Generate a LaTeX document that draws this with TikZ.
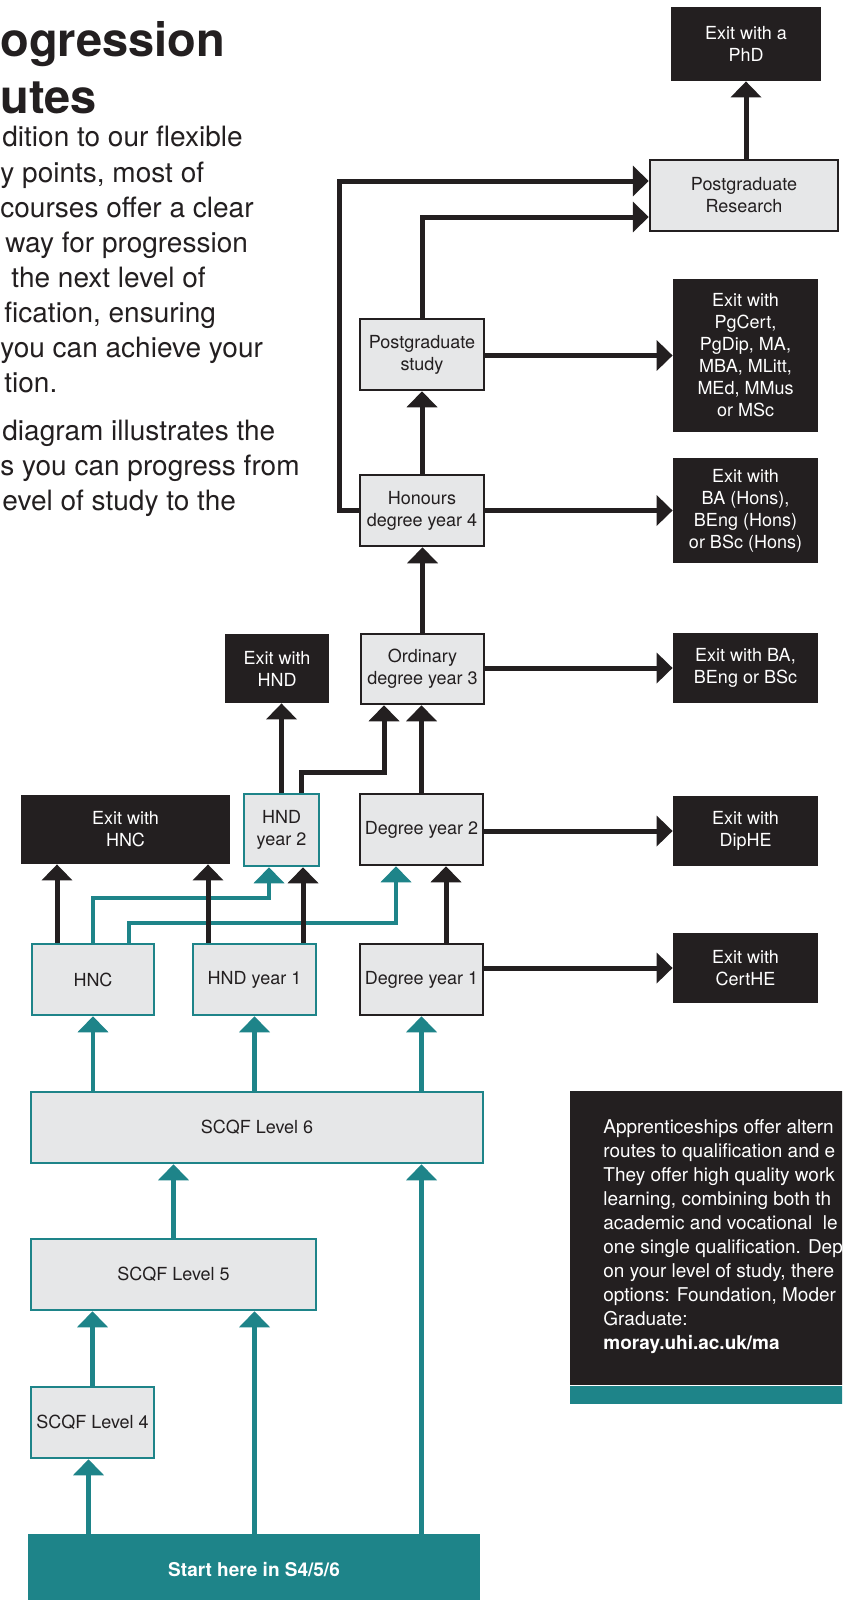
\documentclass[tikz,border=0pt]{standalone}
\usepackage{fontspec}
\setmainfont{TeX Gyre Heros}
\usetikzlibrary{arrows.meta}
\definecolor{ink}{HTML}{231F20}
\definecolor{tealc}{HTML}{1E8489}
\definecolor{boxgray}{HTML}{E6E7E8}
\begin{document}
\begin{tikzpicture}[x=0.5pt,y=-0.5pt,
  boxfont/.style={font=\fontsize{9}{11}\selectfont},
  exitbox/.style={fill=ink, text=white, inner sep=0pt, align=center, boxfont},
  graybox/.style={fill=boxgray, draw=ink, line width=1.25pt, text=ink, inner sep=0pt, align=center, boxfont},
  tealbox/.style={graybox, draw=tealc},
  blk/.style={draw=ink, line width=2.5pt, -{Triangle[length=8pt,width=15pt]}},
  tl/.style={draw=tealc, line width=2.25pt, -{Triangle[length=8pt,width=15pt]}},
  body/.style={anchor=base west, inner sep=0pt, text=ink, font=\fontsize{14}{17.5}\selectfont},
  ttl/.style={anchor=base west, inner sep=0pt, text=ink, font=\fontsize{23.5}{28}\selectfont\bfseries},
  app/.style={anchor=base west, inner sep=0pt, text=white, font=\fontsize{9.5}{12}\selectfont}
]
\useasboundingbox (0,0) rectangle (842,1600);
\clip (0,0) rectangle (842,1600);
\fill[white] (0,0) rectangle (842,1600);

% title and intro text
\node[ttl] (t1) at (0,57) {ogression};
\node[ttl] (t2) at (0,113) {utes};
\node[body] (b1) at (2,147) {dition to our flexible};
\node[body] (b2) at (0,182) {y points, most of};
\node[body] (b3) at (0,217) {courses offer a clear};
\node[body] (b4) at (5,252) {way for progression};
\node[body] (b5) at (11,287) {the next level of};
\node[body] (b6) at (4,322) {fication, ensuring};
\node[body] (b7) at (0,357) {you can achieve your};
\node[body] (b8) at (4,392) {tion.};
\node[body] (b9) at (2,440) {diagram illustrates the};
\node[body] (b10) at (0,475) {s you can progress from};
\node[body] (b11) at (2,510) {evel of study to the};

% exit boxes
\node[exitbox, minimum width=75pt, minimum height=37pt] (phd) at (746,44) {Exit with a\\PhD};
\node[exitbox, minimum width=72.5pt, minimum height=76.5pt] (pgexit) at (745.5,355.5) {Exit with\\PgCert,\\PgDip, MA,\\MBA, MLitt,\\MEd, MMus\\or MSc};
\node[exitbox, minimum width=72.5pt, minimum height=52.5pt] (honsexit) at (745.5,510.5) {Exit with\\BA (Hons),\\BEng (Hons)\\or BSc (Hons)};
\node[exitbox, minimum width=72.5pt, minimum height=35pt] (ordexit) at (745.5,668) {Exit with BA,\\BEng or BSc};
\node[exitbox, minimum width=72.5pt, minimum height=35pt] (dipexit) at (745.5,831) {Exit with\\DipHE};
\node[exitbox, minimum width=72.5pt, minimum height=35pt] (certexit) at (745.5,968) {Exit with\\CertHE};
\node[exitbox, minimum width=52pt, minimum height=34.5pt] (hndexit) at (277,668.5) {Exit with\\HND};
\node[exitbox, minimum width=104.5pt, minimum height=34.5pt] (hncexit) at (125.5,829.5) {Exit with\\HNC};

% study boxes
\node[graybox, minimum width=94pt, minimum height=35.5pt] (pr) at (744,195.5) {Postgraduate\\Research};
\node[graybox, minimum width=62pt, minimum height=35.5pt] (pgs) at (422,354.5) {Postgraduate\\study};
\node[graybox, minimum width=62pt, minimum height=35.5pt] (hon) at (422,510.5) {Honours\\degree year 4};
\node[graybox, minimum width=61.5pt, minimum height=35pt] (ord) at (422.5,669) {Ordinary\\degree year 3};
\node[graybox, minimum width=61.5pt, minimum height=35.5pt] (deg2) at (421.5,829.5) {Degree year 2};
\node[graybox, minimum width=61.5pt, minimum height=35.5pt] (deg1) at (421.5,979.5) {Degree year 1};
\node[tealbox, minimum width=37.5pt, minimum height=36pt] (hnd2) at (281.5,830) {HND\\year 2};
\node[tealbox, minimum width=61pt, minimum height=35.5pt] (hnc) at (93,979.5) {HNC};
\node[tealbox, minimum width=61.5pt, minimum height=35.5pt] (hnd1) at (254.5,979.5) {HND year 1};
\node[tealbox, minimum width=226pt, minimum height=35.5pt] (s6) at (257,1127.5) {SCQF Level 6};
\node[tealbox, minimum width=142.5pt, minimum height=35.5pt] (s5) at (173.5,1274.5) {SCQF Level 5};
\node[tealbox, minimum width=61.5pt, minimum height=35.5pt] (s4) at (92.5,1422.5) {SCQF Level 4};
\node[fill=tealc, text=white, inner sep=0pt, minimum width=226pt, minimum height=36pt, font=\fontsize{9.5}{12}\selectfont\bfseries] (start) at (254,1570) {Start here in S4/5/6};

% apprenticeship panel
\node[fill=ink, inner sep=0pt, minimum width=140pt, minimum height=147pt, anchor=north west] (appbox) at (570,1091) {};
\node[fill=tealc, inner sep=0pt, minimum width=140pt, minimum height=9pt, anchor=north west] (appstrip) at (appbox.south west) {};
\node[app] (a1) at (603,1133) {Apprenticeships offer altern};
\node[app] (a2) at (603,1157) {routes to qualification and e};
\node[app] (a3) at (603,1181) {They offer high quality work};
\node[app] (a4) at (603,1205) {learning, combining both th};
\node[app] (a5) at (603,1229) {academic and vocational\ \ le};
\node[app] (a6) at (603,1253) {one single qualification. Dep};
\node[app] (a7) at (603,1277) {on your level of study, there};
\node[app] (a8) at (603,1301) {options: Foundation, Moder};
\node[app] (a9) at (603,1325) {Graduate:};
\node[app, font=\fontsize{9.5}{12}\selectfont\bfseries] (a10) at (603,1349) {moray.uhi.ac.uk/ma};

% teal connectors
\draw[tl] (hnc.north) -- ++(0,-45) -| ([xshift=-6.25pt]hnd2.south);
\draw[tl] ([xshift=18pt]hnc.north) -- ++(0,-20) -| ([xshift=-12.75pt]deg2.south);
\draw[tl] (hnc.south |- s6.north) -- (hnc.south);
\draw[tl] (hnd1.south |- s6.north) -- (hnd1.south);
\draw[tl] (deg1.south |- s6.north) -- (deg1.south);
\draw[tl] (s5.north) -- (s5.north |- s6.south);
\draw[tl] (deg1.south |- start.north) -- (deg1.south |- s6.south);
\draw[tl] (s4.north) -- (s4.north |- s5.south);
\draw[tl] (hnd1.south |- start.north) -- (hnd1.south |- s5.south);
\draw[tl] ([xshift=-2pt]s4.south |- start.north) -- ([xshift=-2pt]s4.south);

% black connectors
\draw[blk] (phd.south |- pr.north) -- (phd.south);
\draw[blk] (hon.west) -- ++(-19,0) |- ([yshift=7.25pt]pr.west);
\draw[blk] (pgs.north) |- ([yshift=-10.75pt]pr.west);
\draw[blk] (hon.north) -- (pgs.south);
\draw[blk] (pgs.east |- pgexit.west) -- (pgexit.west);
\draw[blk] (hon.east |- honsexit.west) -- (honsexit.west);
\draw[blk] (ord.north) -- (ord.north |- hon.south);
\draw[blk] (ord.east |- ordexit.west) -- (ordexit.west);
\draw[blk] (hnd2.north) -- (hnd2.north |- hndexit.south);
\draw[blk] ([xshift=10pt]hnd2.north) -- ++(0,-20) -| ([xshift=-19.25pt]ord.south);
\draw[blk] (deg2.north) -- (deg2.north |- ord.south);
\draw[blk] (deg2.east |- dipexit.west) -- (dipexit.west);
\draw[blk] (deg1.east |- certexit.west) -- (certexit.west);
\draw[blk] ([xshift=-18pt]hnc.north) -- ([xshift=-18pt]hnc.north |- hncexit.south);
\draw[blk] ([xshift=-23.25pt]hnd1.north) -- ([xshift=-23.25pt]hnd1.north |- hncexit.south);
\draw[blk] ([xshift=24.25pt]hnd1.north) -- ([xshift=24.25pt]hnd1.north |- hnd2.south);
\draw[blk] ([xshift=12.25pt]deg1.north) -- ([xshift=12.25pt]deg1.north |- deg2.south);
\end{tikzpicture}
\end{document}
